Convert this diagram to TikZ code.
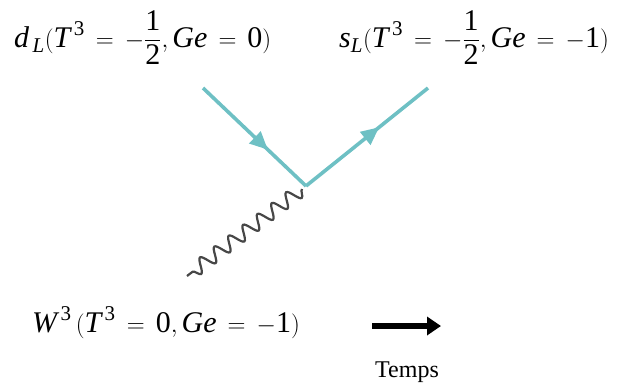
\documentclass[tikz,border=0pt]{standalone}
\usepackage{amsmath}
\usepackage{fontspec}
\setmainfont{Liberation Serif}
\usetikzlibrary{arrows.meta,decorations.pathmorphing,decorations.markings}
\definecolor{fermion}{RGB}{110,192,196}
\newcommand{\ti}[1]{\textit{#1}}
\newcommand{\tr}[1]{\textrm{#1}}
\newcommand{\eqsp}{\mskip3mu=\mskip3mu}
\tikzset{
  fermionline/.style={draw=fermion, line width=3.6pt,
    postaction={decorate, decoration={markings,
      mark=at position #1 with {\arrow{Triangle[length=18pt,width=16pt]}}}}},
  photonline/.style={draw=black!72, line width=2.2pt,
    decorate, decoration={snake, segment length=18pt, amplitude=7pt}},
  lbl/.style={font=\fontsize{30}{34}\selectfont, inner sep=0pt, anchor=base west},
  timearrow/.style={line width=6.5pt, -{Triangle[length=14pt,width=18pt]}}
}
\begin{document}
\begin{tikzpicture}[x=1pt,y=-1pt]
\useasboundingbox (0,0) rectangle (621,383);
\node[lbl] (dl) at (14,47) {$\ti{d}_{\,\ti{L}}(\ti{T}^{\,\tr{3}}\eqsp-\dfrac{\tr{1}}{\tr{2}},\ti{Ge}\eqsp\tr{0})$};
\node[lbl] (sl) at (339,47) {$\ti{s}_{\ti{L}}(\ti{T}^{\,\tr{3}}\eqsp-\dfrac{\tr{1}}{\tr{2}},\ti{Ge}\eqsp-\tr{1})$};
\node[lbl] (w3) at (32,332) {$\ti{W}^{\,\tr{3}}\mskip3mu(\ti{T}^{\,\tr{3}}\eqsp\tr{0},\ti{Ge}\eqsp-\tr{1})$};
\coordinate (a) at (203,88);
\coordinate (v) at (306,186);
\coordinate (b) at (428,88);
\coordinate (p1) at (302,189);
\coordinate (c) at (187,276);
\draw[fermionline=0.63] (a) -- (v);
\draw[fermionline=0.6] (v) -- (b);
\draw[photonline] (p1) -- (c);
\coordinate (t1) at (372,326);
\coordinate (t2) at (441,326);
\draw[timearrow] (t1) -- (t2);
\node[font=\fontsize{24}{28}\selectfont, inner sep=0pt, anchor=base] (temps) at (407,377) {Temps};
\end{tikzpicture}
\end{document}
